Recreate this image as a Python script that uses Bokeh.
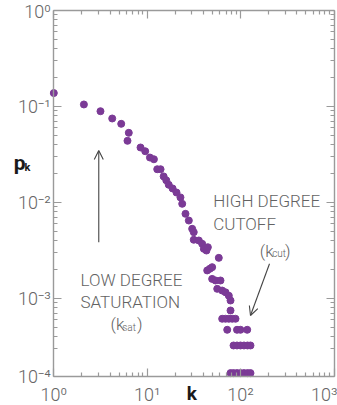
from bokeh.plotting import figure
from bokeh.models import LogAxis, FixedTicker, Label, Arrow, OpenHead, ColumnDataSource, Range1d
from bokeh.embed import file_html
from bokeh.resources import INLINE

# ---- data ----
degree_k = [1.0, 2.1, 3.16, 4.22, 5.27, 6.35, 6.15, 8.48, 9.52, 10.7,
            11.8, 12.8, 13.9, 15.0, 16.0, 17.0, 18.7, 20.6, 22.7, 23.7,
            25.7, 27.9, 30.3, 31.5, 31.5, 35.7, 38.8, 40.4, 43.1, 44.6,
            58.4, 46.8, 49.6, 43.9, 49.6, 53.9, 60.9, 56.2, 63.5, 68.9,
            74.8, 78.0, 78.0,
            63.5, 68.9, 74.8, 81.3, 88.2,
            71.9, 91.5, 99.7, 117.7,
            84.0, 91.5, 99.7, 108.7, 118.6, 127.6,
            78.0, 84.0, 91.5, 99.7, 108.7, 118.6, 127.6]
prob_pk = [0.138, 0.105, 0.0893, 0.075, 0.066, 0.0532, 0.0439, 0.0374, 0.0342, 0.0294,
           0.0282, 0.0222, 0.0222, 0.0187, 0.0170, 0.0153, 0.0140, 0.0127, 0.0113, 0.00969,
           0.00762, 0.00649, 0.00532, 0.00491, 0.00409, 0.00402, 0.00371, 0.00329, 0.00316, 0.00342,
           0.00265, 0.00204, 0.00212, 0.00196, 0.00160, 0.00154, 0.00154, 0.00126, 0.00121, 0.00116,
           0.00107, 0.000953, 0.000750,
           0.000615, 0.000615, 0.000615, 0.000615, 0.000615,
           0.000472, 0.000472, 0.000472, 0.000472,
           0.000324, 0.000324, 0.000324, 0.000324, 0.000324, 0.000324,
           0.000167, 0.000167, 0.000167, 0.000167, 0.000167, 0.000167, 0.000167]

x_tick_values = [1, 10, 100, 1000]
x_tick_labels = ["10\u2070", "10\u00b9", "10\u00b2", "10\u00b3"]
y_tick_values = [1, 0.1, 0.01, 0.001, 1.54e-4]
y_tick_labels = ["10\u2070", "10\u207b\u00b9", "10\u207b\u00b2", "10\u207b\u00b3", "10\u207b\u2074"]

x_minor = [m * 10 ** e for e in (0, 1, 2) for m in range(2, 10)]
y_minor = [m * 10 ** e for e in (-1, -2, -3) for m in range(2, 10)] + [m * 1e-4 for m in range(3, 10)]

# plot box (axes) and the whole visible view around it
X_LO, X_HI = x_tick_values[0], x_tick_values[-1]
Y_LO, Y_HI = y_tick_values[-1], y_tick_values[0]
VIEW_X = (0.2687, 1090)
VIEW_Y = (7.68e-5, 1.2708)

AX = "#9a9a9a"
TXT = "#666666"
ANN = "#636363"
FONT = "Roboto"
LIGHT = "Roboto Light"

p = figure(width=337, height=405, x_axis_type="log", y_axis_type="log",
           x_range=Range1d(*VIEW_X), y_range=Range1d(*VIEW_Y),
           output_backend="svg", toolbar_location=None,
           min_border_left=0, min_border_right=0, min_border_top=0, min_border_bottom=0)
p.xgrid.visible = False
p.ygrid.visible = False
p.outline_line_color = None
p.background_fill_color = "white"
p.border_fill_color = "white"

src = ColumnDataSource(dict(k=degree_k, pk=prob_pk))
p.scatter("k", "pk", source=src, size=7, fill_color="#7b3a96", line_color="#7b3a96")

bottom = p.below[0]
left = p.left[0]
top = LogAxis()
right = LogAxis()
p.add_layout(top, "above")
p.add_layout(right, "right")

xt = FixedTicker(ticks=x_tick_values, minor_ticks=x_minor)
yt = FixedTicker(ticks=y_tick_values, minor_ticks=y_minor)
for ax in (bottom, top):
    ax.ticker = xt
    ax.bounds = (X_LO, X_HI)
for ax in (left, right):
    ax.ticker = yt
    ax.bounds = (Y_LO, Y_HI)

bottom.fixed_location = Y_LO
top.fixed_location = Y_HI
left.fixed_location = X_LO
right.fixed_location = X_HI

bottom.major_label_overrides = dict(zip(x_tick_values, x_tick_labels))
left.major_label_overrides = dict(zip(y_tick_values, y_tick_labels))

for ax in (bottom, left, top, right):
    ax.axis_line_color = AX
    ax.axis_line_width = 1.4
    ax.major_tick_line_color = AX
    ax.minor_tick_line_color = AX
    ax.major_tick_line_width = 1.2
    ax.minor_tick_line_width = 1.2
    ax.major_tick_in = 8
    ax.major_tick_out = 0
    ax.minor_tick_in = 4
    ax.minor_tick_out = 0
    ax.major_label_text_font = LIGHT
    ax.major_label_text_font_size = "18px"
    ax.major_label_text_color = TXT

bottom.major_label_standoff = 8
left.major_label_standoff = 3

for ax in (top, right):
    ax.major_label_text_font_size = "0px"
    ax.major_label_standoff = 0
    ax.major_label_text_alpha = 0

# ---- annotations ----
def lab(x, y, text, size="17px", color=ANN, font=LIGHT, style="normal", align="left"):
    p.add_layout(Label(x=x, y=y, text=text, text_font=font, text_font_size=size,
                       text_color=color, text_font_style=style, text_align=align,
                       text_baseline="alphabetic"))

lab(50.9, 0.01037, "HIGH DEGREE")
lab(50.9, 0.0060, "CUTOFF")
lab(160.6, 0.00316, "(k")
lab(217.9, 0.00294, "cut", size="10px")
lab(298.8, 0.00316, ")")

lab(1.931, 0.001577, "LOW DEGREE")
lab(1.931, 0.000915, "SATURATION")
lab(4.046, 0.000536, "(k")
lab(5.40, 0.000499, "sat", size="10px")
lab(7.78, 0.000536, ")")

lab(0.3729, 0.02548, "p", size="21px", color="#1a1a1a", font=FONT, style="bold")
lab(0.4857, 0.02332, "k", size="11px", color="#1a1a1a", font=FONT, style="bold")
lab(30.03, 1.02e-4, "k", size="19px", color="#1a1a1a", font=FONT, style="bold", align="center")

p.add_layout(Arrow(x_start=3.03, y_start=0.00386, x_end=3.03, y_end=0.0348,
                   line_color="#444444", line_width=1.1,
                   end=OpenHead(size=9, line_color="#444444", line_width=1.1)))
p.add_layout(Arrow(x_start=203.9, y_start=0.0023, x_end=127.6, y_end=0.000665,
                   line_color="#444444", line_width=1.1,
                   end=OpenHead(size=9, line_color="#444444", line_width=1.1)))

open("out.html", "w").write(file_html(p, INLINE))
